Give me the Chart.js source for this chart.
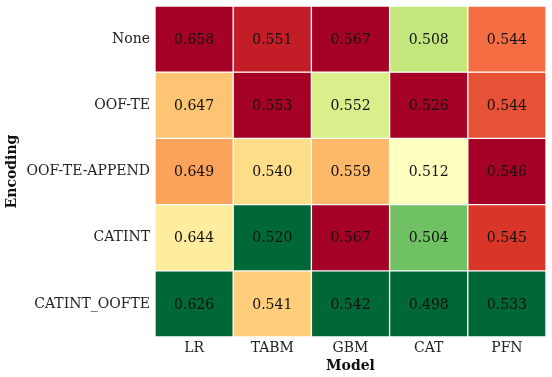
<!DOCTYPE html>
<html><head><meta charset="utf-8">
<script src="https://cdn.jsdelivr.net/npm/chart.js@4/dist/chart.umd.min.js"></script>
<style>html,body{margin:0;padding:0;background:#fff}#wrap{width:552px;height:377px}</style>
</head><body><div id="wrap"><canvas id="c" width="552" height="377"></canvas></div>
<script>
const models = ['LR', 'TABM', 'GBM', 'CAT', 'PFN'];
const encodings = ['None', 'OOF-TE', 'OOF-TE-APPEND', 'CATINT', 'CATINT_OOFTE'];
const valNone        = [0.658, 0.551, 0.567, 0.508, 0.5438];
const valOofTe       = [0.647, 0.553, 0.552, 0.526, 0.5444];
const valOofTeAppend = [0.649, 0.540, 0.559, 0.512, 0.5464];
const valCatint      = [0.644, 0.520, 0.567, 0.504, 0.5450];
const valCatintOofte = [0.626, 0.541, 0.542, 0.498, 0.5334];
const rows = [valNone, valOofTe, valOofTeAppend, valCatint, valCatintOofte];

const RDYLGN = ['#a50026','#d73027','#f46d43','#fdae61','#fee08b','#ffffbf','#d9ef8b','#a6d96a','#66bd63','#1a9850','#006837'];
function hex2rgb(h){return [1,3,5].map(i=>parseInt(h.substr(i,2),16));}
function cmap(t){ // t=1 -> red (high), t=0 -> green
  const u = (1 - t) * (RDYLGN.length - 1);
  const i = Math.min(Math.floor(u), RDYLGN.length - 2);
  const f = u - i;
  const a = hex2rgb(RDYLGN[i]), b = hex2rgb(RDYLGN[i+1]);
  const c = a.map((v,k)=>Math.round(v + (b[k]-v)*f));
  return `rgb(${c[0]},${c[1]},${c[2]})`;
}
function cellColor(v, col){
  const colVals = rows.map(r=>r[col]);
  const mn = Math.min(...colVals), mx = Math.max(...colVals);
  return cmap((v - mn) / (mx - mn));
}

const FONT = "'DejaVu Serif', serif";

const labelPlugin = {
  id: 'cellLabels',
  afterDatasetsDraw(chart){
    const ctx = chart.ctx;
    ctx.save();
    ctx.font = `14px ${FONT}`;
    ctx.fillStyle = '#111';
    ctx.textAlign = 'center';
    ctx.textBaseline = 'middle';
    chart.data.datasets.forEach((ds, di) => {
      const meta = chart.getDatasetMeta(di);
      meta.data.forEach((el, j) => {
        const v = rows[di][j];
        ctx.fillText(v.toFixed(3), el.x, (el.y + el.base) / 2 + 1);
      });
    });
    ctx.restore();
  }
};

new Chart(document.getElementById('c'), {
  type: 'bar',
  data: {
    labels: models,
    datasets: rows.map((r, i) => ({
      label: encodings[i],
      data: r.map(() => [i, i + 1]),
      backgroundColor: r.map((v, j) => cellColor(v, j)),
      borderColor: '#ffffff',
      borderWidth: 1,
      borderSkipped: false,
      grouped: false,
      categoryPercentage: 1,
      barPercentage: 1
    }))
  },
  options: {
    responsive: false,
    animation: false,
    layout: { padding: { left: 0, top: 6, right: 6, bottom: 0 } },
    plugins: { legend: { display: false }, tooltip: { enabled: false } },
    scales: {
      x: {
        grid: { display: false, drawTicks: false },
        border: { display: false },
        ticks: { color: '#222', font: { family: FONT, size: 14 }, padding: 3 },
        title: { display: true, text: 'Model', color: '#111', font: { family: FONT, size: 14, weight: 'bold' }, padding: { top: 2, bottom: 2 } },
        afterFit(s){ s.height = 40; s.paddingLeft = 0; s.paddingRight = 0; }
      },
      y: {
        type: 'linear', min: 0, max: 5, reverse: true,
        grid: { display: false, drawTicks: false },
        border: { display: false },
        afterBuildTicks(s){ s.ticks = encodings.map((_, i) => ({ value: i + 0.5 })); },
        ticks: { autoSkip: false, color: '#222', font: { family: FONT, size: 14 }, padding: 5,
                 callback: (v, i) => encodings[i] },
        title: { display: true, text: 'Encoding', color: '#111', font: { family: FONT, size: 14, weight: 'bold' }, padding: { top: 4, bottom: 4 } },
        afterFit(s){ s.width = 155; s.paddingTop = 0; s.paddingBottom = 0; }
      }
    }
  },
  plugins: [labelPlugin]
});
</script></body></html>
